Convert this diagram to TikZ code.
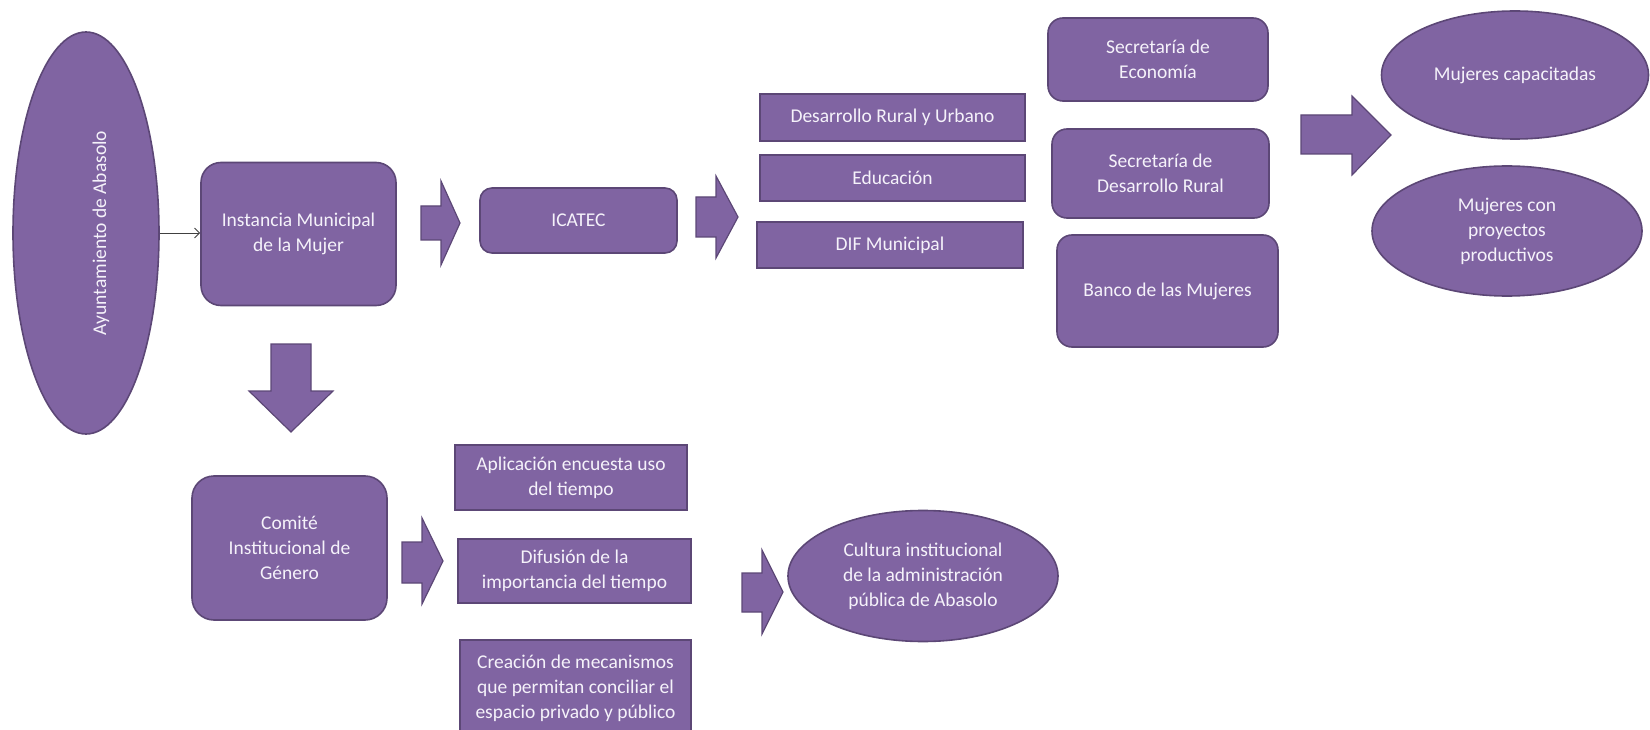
\documentclass[tikz,border=0pt]{standalone}
\usepackage{fontspec}
\setmainfont{Carlito}
\usetikzlibrary{shapes.geometric,arrows.meta}

\definecolor{boxfill}{HTML}{8064A2}
\definecolor{boxline}{HTML}{5C4776}
\definecolor{boxtext}{HTML}{F5F2FA}

\tikzset{
	box/.style={draw=boxline, line width=1.6, fill=boxfill, text=boxtext, align=center,
		inner sep=0pt, font=\fontsize{19.5}{25}\selectfont},
	rbox/.style={box, rounded corners=15},
	oval/.style={box, ellipse},
	blockarrow/.style={draw=boxline, line width=1.2, fill=boxfill, line join=miter},
}

\begin{document}
\begin{tikzpicture}[x=1pt, y=-1pt]
	\useasboundingbox (0,0) rectangle (1650,730);
	\clip (0,0) rectangle (1650,730);

	%% AYUNTAMIENTO and INSTANCIA
	\node[oval, rotate=90, minimum width=402, minimum height=146](ayto) at (86,233){\raisebox{-15pt}[\height][\depth]{Ayuntamiento de Abasolo}};
	\node[rbox, rounded corners=20, minimum width=195, minimum height=143](imm) at (298.5,234){Instancia Municipal\\de la Mujer};

	\draw[-{Straight Barb[length=5pt, width=10pt]}, line width=0.9, black!75] (ayto.south) -- (ayto.south -| imm.west);

	%% ICATEC branch
	\draw[blockarrow] (421,206) -- (441,206) -- (441,181) -- (460,223) -- (441,265) -- (441,240) -- (421,240) -- cycle;
	\node[rbox, rounded corners=12, minimum width=197, minimum height=65](icatec) at (578.5,220.5){ICATEC};

	\draw[blockarrow] (696,197) -- (716,197) -- (716,176) -- (738,217) -- (716,258) -- (716,237) -- (696,237) -- cycle;
	\node[box, minimum width=265, minimum height=47](rural) at (892.5,117.5){Desarrollo Rural y Urbano};
	\node[box, minimum width=265, minimum height=46](educ) at (892.5,178){Educación};
	\node[box, minimum width=266, minimum height=46](dif) at (890,245){DIF Municipal};

	%% SECRETARIAS
	\node[rbox, minimum width=220, minimum height=83](econ) at (1158,59.5){Secretaría de\\Economía};
	\node[rbox, minimum width=217, minimum height=89](sdr) at (1160.5,173.5){Secretaría de\\Desarrollo Rural};
	\node[rbox, minimum width=221, minimum height=112](banco) at (1167.5,291){Banco de las Mujeres};

	%% RESULTADOS
	\draw[blockarrow] (1301,115) -- (1352,115) -- (1352,96) -- (1391,135) -- (1352,175) -- (1352,154) -- (1301,154) -- cycle;
	\node[oval, minimum width=267, minimum height=128](capac) at (1515,75){Mujeres capacitadas};
	\node[oval, minimum width=270, minimum height=130](proy) at (1507,231){Mujeres con\\proyectos\\productivos};

	%% COMITE
	\draw[blockarrow] (271,344) -- (311,344) -- (311,391) -- (333,391) -- (291,432) -- (249,391) -- (271,391) -- cycle;
	\node[rbox, rounded corners=22, minimum width=195, minimum height=144](comite) at (289.5,548){Comité\\Institucional de\\Género};

	\draw[blockarrow] (402,542) -- (422,542) -- (422,518) -- (443,561) -- (422,604) -- (422,583) -- (402,583) -- cycle;
	\node[box, minimum width=232, minimum height=65](encuesta) at (571,477.5){Aplicación encuesta uso\\del tiempo};
	\node[box, minimum width=233, minimum height=64](difusion) at (574.5,571){Difusión de la\\importancia del tiempo};
	\node[box, minimum width=231, minimum height=96](mecan) at (575.5,688){Creación de mecanismos\\que permitan conciliar el\\espacio privado y público};

	\draw[blockarrow] (742,573) -- (762,573) -- (762,550) -- (783,592) -- (762,634) -- (762,612) -- (742,612) -- cycle;
	\node[oval, minimum width=270, minimum height=131](cultura) at (923,576){Cultura institucional\\de la administración\\pública de Abasolo};
\end{tikzpicture}
\end{document}
